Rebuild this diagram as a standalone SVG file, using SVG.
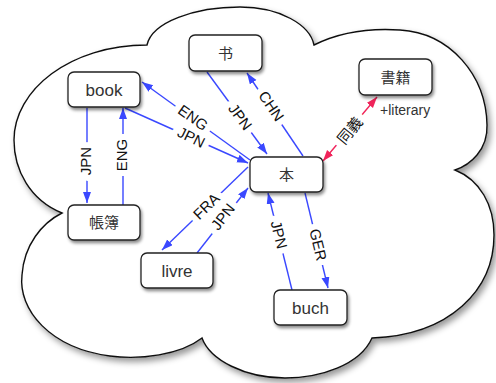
<svg xmlns="http://www.w3.org/2000/svg" width="496" height="383" viewBox="0 0 496 383">
<style>
.node rect{fill:#fff;stroke:#222;stroke-width:1.3;filter:url(#sh)}
.node text{font-family:"Liberation Sans","Noto Sans CJK JP",sans-serif;font-size:17px;fill:#333;text-anchor:middle}
.node text.cjk{font-size:15px}
.e{stroke:#3a48ff;stroke-width:1.4;fill:none;marker-end:url(#ab)}
.r{stroke:#f0245a;stroke-width:1.4;fill:none;marker-end:url(#ar);marker-start:url(#ar)}
.lb{font-family:"Liberation Sans","Noto Sans CJK JP",sans-serif;font-size:15px;fill:#111;text-anchor:middle;stroke:#fff;stroke-width:12;paint-order:stroke;stroke-linejoin:round}
</style>
<defs>
<filter id="sh" x="-20%" y="-20%" width="150%" height="160%">
<feDropShadow dx="1.5" dy="2.5" stdDeviation="1.8" flood-color="#000" flood-opacity="0.45"/>
</filter>
<filter id="csh" x="-10%" y="-10%" width="130%" height="130%">
<feDropShadow dx="3" dy="4" stdDeviation="3" flood-color="#000" flood-opacity="0.4"/>
</filter>
<marker id="ab" markerUnits="userSpaceOnUse" markerWidth="12" markerHeight="9" refX="11" refY="4" orient="auto">
<path d="M0,0 L11,4 L0,8 z" fill="#3a48ff"/>
</marker>
<marker id="ar" markerUnits="userSpaceOnUse" markerWidth="12" markerHeight="9" refX="11" refY="4" orient="auto-start-reverse">
<path d="M0,0 L11,4 L0,8 z" fill="#f0245a"/>
</marker>
</defs>
<rect width="496" height="383" fill="#fff"/>
<g id="cloud">
<path d="M147,45 C152,22 195,7 240,7 C280,7 310,25 314,45 C340,32 370,28 400,30 C450,33 486,75 487,125 C488,150 470,165 455,170 C480,180 494,205 494,235 C494,290 450,335 372,338 C360,365 320,378 285,378 C245,378 210,360 202,338 C180,355 140,360 110,356 C50,348 18,310 22,275 C24,245 42,223 62,213 C30,200 14,170 14,140 C14,90 70,45 147,45 Z" fill="#fff" stroke="#111" stroke-width="1.4" filter="url(#csh)"/>
</g>
<g id="connectors">
<line class="e" x1="250" y1="160" x2="142" y2="82"/>
<line class="e" x1="125" y1="108" x2="248" y2="163"/>
<line class="e" x1="87" y1="108" x2="87" y2="203"/>
<line class="e" x1="123" y1="205" x2="123" y2="108"/>
<line class="e" x1="207" y1="72" x2="267" y2="154"/>
<line class="e" x1="303" y1="156" x2="247" y2="73"/>
<line class="e" x1="248" y1="167" x2="162" y2="250"/>
<line class="e" x1="197" y1="253" x2="248" y2="188"/>
<line class="e" x1="292" y1="290" x2="268" y2="193"/>
<line class="e" x1="305" y1="193" x2="328" y2="288"/>
<line class="r" x1="323" y1="161" x2="377" y2="97"/>
<text class="lb" transform="translate(190,122) rotate(35.5)">ENG</text>
<text class="lb" transform="translate(189,142) rotate(26)">JPN</text>
<text class="lb" transform="translate(91,161) rotate(-90)">JPN</text>
<text class="lb" transform="translate(127,155) rotate(-90)">ENG</text>
<text class="lb" transform="translate(236,120) rotate(53.5)">JPN</text>
<text class="lb" transform="translate(267,109) rotate(55.7)">CHN</text>
<text class="lb" transform="translate(210,210) rotate(-44)">FRA</text>
<text class="lb" transform="translate(227,220) rotate(-52)">JPN</text>
<text class="lb" transform="translate(274,236) rotate(75.8)">JPN</text>
<text class="lb" transform="translate(313,246) rotate(76.4)">GER</text>
<text class="lb" transform="translate(354,134) rotate(-50.7)">同義</text>
<text x="380" y="115" style="font-family:'Liberation Sans',sans-serif;font-size:14px;fill:#333">+literary</text>
</g>
<g id="n-shu" class="node"><rect x="189" y="35" width="73" height="36" rx="6"/><text class="cjk" x="225.5" y="58.5">书</text></g>
<g id="n-book" class="node"><rect x="68" y="72" width="72" height="35" rx="6"/><text x="104" y="95.5">book</text></g>
<g id="n-shoseki" class="node"><rect x="359" y="59" width="73" height="36" rx="6"/><text class="cjk" x="395.5" y="82.5">書籍</text></g>
<g id="n-hon" class="node"><rect x="250" y="157" width="73" height="35" rx="6"/><text class="cjk" x="286.5" y="180">本</text></g>
<g id="n-choubo" class="node"><rect x="68" y="205" width="72" height="35" rx="6"/><text class="cjk" x="104" y="228">帳簿</text></g>
<g id="n-livre" class="node"><rect x="141" y="253" width="72" height="35" rx="6"/><text x="177" y="276.5">livre</text></g>
<g id="n-buch" class="node"><rect x="274" y="290" width="73" height="35" rx="6"/><text x="310.5" y="313.5">buch</text></g>
</svg>
